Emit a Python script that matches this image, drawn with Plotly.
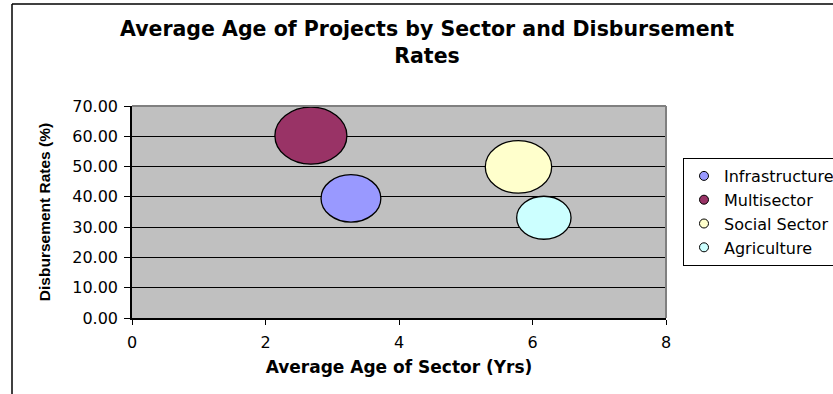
import plotly.graph_objects as go
import numpy as np

# ---- data ----
sectors = ["Infrastructure", "Multisector", "Social Sector", "Agriculture"]
avg_age = [3.28, 2.68, 5.79, 6.17]          # Average Age of Sector (Yrs)
disb_rate = [39.5, 60.2, 49.9, 33.1]        # Disbursement Rates (%)
bubble_size = [69, 100, 85, 57]             # relative bubble size (area)
x_ticks = [0, 2, 4, 6, 8]
y_ticks = [0, 10, 20, 30, 40, 50, 60, 70]

# ---- style ----
colors = ["#9999FF", "#993366", "#FFFFCC", "#CCFFFF"]
W, H = 833, 394
M_L, M_R, M_T, M_B = 132, 167, 106, 76
PW, PH = W - M_L - M_R, H - M_T - M_B
X_RANGE, Y_RANGE = [0, 8], [0, 70]
MAX_D_X_PX, MAX_D_Y_PX = 72, 57   # largest bubble's width / height in pixels
TXT = "DejaVu Sans"

def px_to_paper_x(px):
    return (px - M_L) / PW

def px_to_paper_y(py):
    return (H - M_B - py) / PH

fig = go.Figure()

smax = max(bubble_size)
shapes = []
for name, x, y, s, c in zip(sectors, avg_age, disb_rate, bubble_size, colors):
    fig.add_trace(go.Scatter(
        x=[x], y=[y], mode="markers", name=name,
        marker=dict(symbol="circle", size=9, color=c, line=dict(color="black", width=1)),
        hoverinfo="name",
    ))
    k = np.sqrt(s / smax)
    rx = MAX_D_X_PX / 2 * k * (X_RANGE[1] - X_RANGE[0]) / PW
    ry = MAX_D_Y_PX / 2 * k * (Y_RANGE[1] - Y_RANGE[0]) / PH
    shapes.append(dict(type="circle", xref="x", yref="y",
                       x0=x - rx, x1=x + rx, y0=y - ry, y1=y + ry,
                       fillcolor=c, line=dict(color="black", width=1.3), layer="above"))

# plot-area top/right gray border
shapes.append(dict(type="line", xref="paper", yref="paper", x0=0, x1=1, y0=1, y1=1,
                   line=dict(color="#808080", width=2), layer="above"))
shapes.append(dict(type="line", xref="paper", yref="paper", x0=1, x1=1, y0=0, y1=1,
                   line=dict(color="#808080", width=2), layer="above"))
# chart outer border (left + top)
shapes.append(dict(type="line", xref="paper", yref="paper",
                   x0=px_to_paper_x(12), x1=px_to_paper_x(12),
                   y0=px_to_paper_y(400), y1=px_to_paper_y(4),
                   line=dict(color="black", width=1.5)))
shapes.append(dict(type="line", xref="paper", yref="paper",
                   x0=px_to_paper_x(12), x1=px_to_paper_x(840),
                   y0=px_to_paper_y(4), y1=px_to_paper_y(4),
                   line=dict(color="black", width=1.5)))

fig.update_layout(
    width=W, height=H,
    margin=dict(l=M_L, r=M_R, t=M_T, b=M_B, autoexpand=False),
    paper_bgcolor="white", plot_bgcolor="#C0C0C0",
    font=dict(family=TXT, size=16, color="black"),
    title=dict(text="<b>Average Age of Projects by Sector and Disbursement<br>Rates</b>",
               x=427 / W, xanchor="center", y=1 - 36 / H, yanchor="middle",
               yref="container", font=dict(family=TXT, size=20.5, color="black")),
    showlegend=True,
    legend=dict(x=px_to_paper_x(683), y=px_to_paper_y(158), xanchor="left", yanchor="top",
                bordercolor="black", borderwidth=1, bgcolor="white",
                font=dict(family=TXT, size=16, color="black"),
                itemsizing="trace"),
    shapes=shapes,
    xaxis=dict(range=X_RANGE, tickvals=x_ticks, ticktext=[str(v) for v in x_ticks],
               showgrid=False, zeroline=False,
               showline=True, linecolor="black", linewidth=1.5,
               ticks="outside", ticklen=5, tickcolor="black", tickwidth=1,
               ticklabelstandoff=4,
               tickfont=dict(family=TXT, size=16),
               title=dict(text="<b>Average Age of Sector (Yrs)</b>",
                          font=dict(family=TXT, size=17), standoff=10)),
    yaxis=dict(range=Y_RANGE, tickvals=y_ticks, ticktext=[f"{v:.2f}" for v in y_ticks],
               showgrid=True, gridcolor="black", gridwidth=1, zeroline=False,
               showline=True, linecolor="black", linewidth=1.5,
               ticks="outside", ticklen=6, tickcolor="black", tickwidth=1,
               ticklabelstandoff=3,
               tickfont=dict(family=TXT, size=16),
               title=dict(text="<b>Disbursement Rates (%)</b>",
                          font=dict(family="Liberation Sans", size=15.5), standoff=18)),
)

fig.write_html("out.html")
